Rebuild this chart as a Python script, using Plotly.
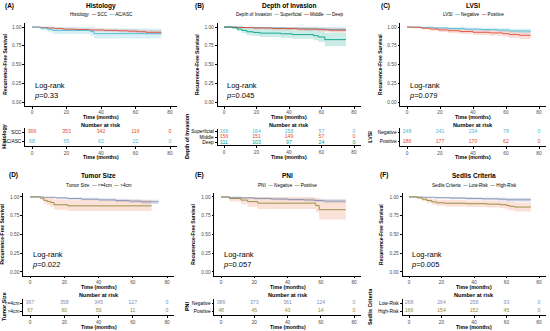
import plotly.graph_objects as go

W, H = 550, 331
FONT = "Liberation Sans"

RISK_TIMES = [0, 20, 40, 60, 80]
X_TICKS = [0, 20, 40, 60, 80]
Y_TICKS = [0, 0.25, 0.5, 0.75, 1.0]
Y_TICKTEXT = ["0.00", "0.25", "0.50", "0.75", "1.00"]

# ---------------- (A) Histology ----------------
A_SCC_t = [0, 5, 9, 13, 18, 25, 33, 42, 50, 56, 61, 66, 75]
A_SCC_s = [1.000, 0.995, 0.988, 0.980, 0.972, 0.967, 0.961, 0.956, 0.950, 0.945, 0.938, 0.930, 0.930]
A_SCC_lo = [1.000, 0.988, 0.977, 0.966, 0.955, 0.949, 0.941, 0.935, 0.927, 0.920, 0.911, 0.900, 0.900]
A_SCC_hi = [1.000, 1.000, 0.999, 0.994, 0.989, 0.985, 0.981, 0.977, 0.973, 0.970, 0.965, 0.960, 0.960]
A_AC_t = [0, 5, 9, 12, 34, 36, 75]
A_AC_s = [1.000, 0.985, 0.970, 0.955, 0.940, 0.912, 0.912]
A_AC_lo = [1.000, 0.956, 0.930, 0.906, 0.884, 0.847, 0.847]
A_AC_hi = [1.000, 1.000, 1.000, 1.000, 0.999, 0.982, 0.982]
A_risk_SCC = [366, 353, 342, 116, 0]
A_risk_AC = [68, 65, 62, 22, 0]

# ---------------- (B) Depth of Invasion ----------------
B_SUP_t = [0, 12, 25, 38, 50, 62, 75]
B_SUP_s = [1.000, 0.994, 0.988, 0.982, 0.976, 0.968, 0.968]
B_SUP_lo = [1.000, 0.982, 0.971, 0.961, 0.952, 0.940, 0.940]
B_SUP_hi = [1.000, 1.000, 1.000, 1.000, 1.000, 0.996, 0.996]
B_MID_t = [0, 8, 18, 30, 45, 58, 65, 75]
B_MID_s = [1.000, 0.994, 0.987, 0.980, 0.973, 0.965, 0.958, 0.958]
B_MID_lo = [1.000, 0.981, 0.969, 0.958, 0.948, 0.937, 0.927, 0.927]
B_MID_hi = [1.000, 1.000, 1.000, 1.000, 0.999, 0.994, 0.990, 0.990]
B_DEEP_t = [0, 5, 8, 11, 14, 18, 22, 35, 42, 55, 58, 62, 75]
B_DEEP_s = [1.000, 0.991, 0.973, 0.955, 0.937, 0.928, 0.919, 0.910, 0.900, 0.885, 0.868, 0.832, 0.832]
B_DEEP_lo = [1.000, 0.973, 0.943, 0.917, 0.892, 0.880, 0.868, 0.857, 0.845, 0.823, 0.800, 0.745, 0.745]
B_DEEP_hi = [1.000, 1.000, 1.000, 0.995, 0.984, 0.978, 0.972, 0.966, 0.958, 0.950, 0.940, 0.925, 0.925]
B_risk_SUP = [166, 164, 158, 57, 0]
B_risk_MID = [156, 151, 149, 57, 0]
B_risk_DEEP = [111, 103, 97, 24, 0]

# ---------------- (C) LVSI ----------------
C_NEG_t = [0, 8, 16, 25, 35, 45, 55, 62, 75]
C_NEG_s = [1.000, 0.996, 0.988, 0.980, 0.972, 0.966, 0.960, 0.948, 0.948]
C_NEG_lo = [1.000, 0.988, 0.974, 0.962, 0.951, 0.943, 0.935, 0.919, 0.919]
C_NEG_hi = [1.000, 1.000, 1.000, 0.998, 0.993, 0.989, 0.985, 0.977, 0.977]
C_POS_t = [0, 4, 9, 14, 19, 25, 32, 40, 50, 58, 62, 68, 75]
C_POS_s = [1.000, 0.995, 0.984, 0.973, 0.962, 0.951, 0.940, 0.930, 0.922, 0.912, 0.900, 0.890, 0.890]
C_POS_lo = [1.000, 0.985, 0.966, 0.950, 0.935, 0.920, 0.906, 0.893, 0.883, 0.870, 0.853, 0.840, 0.840]
C_POS_hi = [1.000, 1.000, 1.000, 0.997, 0.990, 0.983, 0.975, 0.968, 0.962, 0.955, 0.948, 0.941, 0.941]
C_risk_NEG = [248, 241, 234, 78, 0]
C_risk_POS = [186, 177, 170, 62, 0]

# ---------------- (D) Tumor Size ----------------
D_SMALL_t = [0, 8, 15, 22, 30, 40, 50, 58, 65, 75]
D_SMALL_s = [1.000, 0.995, 0.987, 0.979, 0.970, 0.961, 0.953, 0.945, 0.935, 0.935]
D_SMALL_lo = [1.000, 0.988, 0.975, 0.964, 0.952, 0.941, 0.930, 0.920, 0.906, 0.906]
D_SMALL_hi = [1.000, 1.000, 0.999, 0.994, 0.988, 0.982, 0.976, 0.970, 0.964, 0.964]
D_LARGE_t = [0, 6, 8, 10, 12, 14, 22, 71]
D_LARGE_s = [1.000, 0.985, 0.955, 0.940, 0.925, 0.896, 0.881, 0.881]
D_LARGE_lo = [1.000, 0.956, 0.908, 0.886, 0.866, 0.830, 0.812, 0.812]
D_LARGE_hi = [1.000, 1.000, 1.000, 0.998, 0.989, 0.967, 0.955, 0.955]
D_risk_SMALL = [367, 358, 345, 127, 0]
D_risk_LARGE = [67, 60, 59, 11, 0]

# ---------------- (E) PNI ----------------
E_NEG_t = [0, 5, 12, 20, 30, 40, 50, 56, 62, 75]
E_NEG_s = [1.000, 0.995, 0.988, 0.980, 0.972, 0.965, 0.960, 0.953, 0.945, 0.945]
E_NEG_lo = [1.000, 0.988, 0.977, 0.966, 0.955, 0.946, 0.939, 0.930, 0.920, 0.920]
E_NEG_hi = [1.000, 1.000, 0.999, 0.994, 0.989, 0.984, 0.981, 0.976, 0.971, 0.971]
E_POS_t = [0, 5, 12, 16, 22, 55, 57, 59, 75]
E_POS_s = [1.000, 0.979, 0.958, 0.938, 0.917, 0.917, 0.885, 0.830, 0.830]
E_POS_lo = [1.000, 0.939, 0.903, 0.870, 0.840, 0.840, 0.795, 0.700, 0.700]
E_POS_hi = [1.000, 1.000, 1.000, 1.000, 0.999, 0.999, 0.985, 0.950, 0.950]
E_risk_NEG = [386, 373, 361, 124, 0]
E_risk_POS = [48, 45, 43, 14, 0]

# ---------------- (F) Sedlis Criteria ----------------
F_LOW_t = [0, 8, 16, 25, 35, 45, 55, 60, 75]
F_LOW_s = [1.000, 0.996, 0.990, 0.985, 0.980, 0.975, 0.970, 0.962, 0.962]
F_LOW_lo = [1.000, 0.988, 0.978, 0.970, 0.963, 0.955, 0.948, 0.936, 0.936]
F_LOW_hi = [1.000, 1.000, 1.000, 1.000, 0.997, 0.994, 0.992, 0.988, 0.988]
F_HIGH_t = [0, 5, 8, 11, 14, 17, 22, 35, 48, 56, 60, 62, 65, 75]
F_HIGH_s = [1.000, 0.988, 0.970, 0.952, 0.934, 0.922, 0.916, 0.910, 0.904, 0.896, 0.886, 0.874, 0.865, 0.865]
F_HIGH_lo = [1.000, 0.971, 0.944, 0.919, 0.896, 0.881, 0.874, 0.866, 0.859, 0.848, 0.834, 0.818, 0.805, 0.805]
F_HIGH_hi = [1.000, 1.000, 0.996, 0.985, 0.972, 0.963, 0.958, 0.954, 0.949, 0.944, 0.938, 0.930, 0.925, 0.925]
F_risk_LOW = [268, 264, 258, 93, 0]
F_risk_HIGH = [166, 154, 152, 45, 0]

# ---------------- styles ----------------
RED, CYAN, GREEN = "#E64B35", "#4DBBD5", "#00A087"
LAV, OLIVE = "#8491B4", "#8F8A3B"
FILLS = {RED: "rgba(230,75,53,0.18)", CYAN: "rgba(77,187,213,0.22)",
         GREEN: "rgba(0,160,135,0.2)", LAV: "rgba(132,145,180,0.25)",
         OLIVE: "rgba(243,155,127,0.3)"}

def grp(name, t, s, lo, hi, risk, color):
    return dict(name=name, t=t, s=s, lo=lo, hi=hi, risk=risk, color=color)

panels = [
    dict(tag="(A)", title="Histology", var="Histology", p="0.33",
         groups=[grp("SCC", A_SCC_t, A_SCC_s, A_SCC_lo, A_SCC_hi, A_risk_SCC, RED),
                 grp("AC/ASC", A_AC_t, A_AC_s, A_AC_lo, A_AC_hi, A_risk_AC, CYAN)]),
    dict(tag="(B)", title="Depth of Invasion", var="Depth of Invasion", p="0.045",
         groups=[grp("Superficial", B_SUP_t, B_SUP_s, B_SUP_lo, B_SUP_hi, B_risk_SUP, CYAN),
                 grp("Middle", B_MID_t, B_MID_s, B_MID_lo, B_MID_hi, B_risk_MID, RED),
                 grp("Deep", B_DEEP_t, B_DEEP_s, B_DEEP_lo, B_DEEP_hi, B_risk_DEEP, GREEN)]),
    dict(tag="(C)", title="LVSI", var="LVSI", p="0.079",
         groups=[grp("Negative", C_NEG_t, C_NEG_s, C_NEG_lo, C_NEG_hi, C_risk_NEG, CYAN),
                 grp("Positive", C_POS_t, C_POS_s, C_POS_lo, C_POS_hi, C_risk_POS, RED)]),
    dict(tag="(D)", title="Tumor Size", var="Tumor Size", p="0.022",
         groups=[grp("<=4cm", D_SMALL_t, D_SMALL_s, D_SMALL_lo, D_SMALL_hi, D_risk_SMALL, LAV),
                 grp(">4cm", D_LARGE_t, D_LARGE_s, D_LARGE_lo, D_LARGE_hi, D_risk_LARGE, OLIVE)]),
    dict(tag="(E)", title="PNI", var="PNI", p="0.057",
         groups=[grp("Negative", E_NEG_t, E_NEG_s, E_NEG_lo, E_NEG_hi, E_risk_NEG, LAV),
                 grp("Positive", E_POS_t, E_POS_s, E_POS_lo, E_POS_hi, E_risk_POS, OLIVE)]),
    dict(tag="(F)", title="Sedlis Criteria", var="Sedlis Criteria", p="0.005",
         groups=[grp("Low-Risk", F_LOW_t, F_LOW_s, F_LOW_lo, F_LOW_hi, F_risk_LOW, LAV),
                 grp("High-Risk", F_HIGH_t, F_HIGH_s, F_HIGH_lo, F_HIGH_hi, F_risk_HIGH, OLIVE)]),
]

# geometry in pixels: (col_left, tag_offset, x0, x1)
cols = [(0, 3, 25.1, 176.9), (183, 10, 217.5, 360.5), (366, 13, 400.4, 545.6),
        (0, 7, 23.2, 173.9), (183, 10, 214.4, 360.7), (366, 12, 402.5, 545.5)]
rows = [dict(title=5.5, legend=15, km=(23.3, 105.8), time1=116.5, nar=124.5, tab=(127.5, 146), time2=156.8),
        dict(title=175, legend=185, km=(193.2, 275.6), time1=287.4, nar=295.2, tab=(299, 315), time2=326.5)]

def ax(n, kind):
    return kind if n == 1 else f"{kind}{n}"

fig = go.Figure()
layout = dict(template="none", width=W, height=H, margin=dict(l=0, r=0, t=0, b=0),
              paper_bgcolor="white", plot_bgcolor="white", showlegend=False,
              font=dict(family=FONT, color="black"))
ann = []

def PX(v):
    return v / W

def PY(v):
    return 1 - v / H

AXC = dict(showgrid=False, zeroline=False, showline=True, linecolor="black", linewidth=0.6,
           ticks="outside", ticklen=2, tickwidth=0.6, tickcolor="black",
           tickfont=dict(size=4.8, color="#4D4D4D", family=FONT), fixedrange=True)

for i, pnl in enumerate(panels):
    col_left, tagoff, x0, x1 = cols[i]
    r = rows[i // 3]
    nk, nt = 2 * i + 1, 2 * i + 2
    ng = len(pnl["groups"])
    tab = r["tab"] if ng == 2 else (r["tab"][0] + 1.5, r["tab"][1] - 1)
    layout[f"xaxis{'' if nk == 1 else nk}"] = dict(AXC, domain=[PX(x0), PX(x1)], range=[-4, 84],
                                                   tickvals=X_TICKS, anchor=ax(nk, "y"))
    layout[f"yaxis{'' if nk == 1 else nk}"] = dict(AXC, domain=[PY(r["km"][1]), PY(r["km"][0])],
                                                   range=[-0.05, 1.05], tickvals=Y_TICKS,
                                                   ticktext=Y_TICKTEXT, anchor=ax(nk, "x"))
    layout[f"xaxis{nt}"] = dict(AXC, domain=[PX(x0), PX(x1)], range=[-4, 84],
                                tickvals=X_TICKS, anchor=ax(nt, "y"))
    layout[f"yaxis{nt}"] = dict(AXC, domain=[PY(tab[1]), PY(tab[0])], range=[0.5, ng + 0.5],
                                tickvals=list(range(ng, 0, -1)),
                                ticktext=[g["name"] for g in pnl["groups"]],
                                tickfont=dict(size=4.8, color="black", family=FONT),
                                anchor=ax(nt, "x"))
    for g in pnl["groups"]:
        fig.add_trace(go.Scatter(x=g["t"], y=g["lo"], mode="lines", line=dict(width=0, shape="hv"),
                                 xaxis=ax(nk, "x"), yaxis=ax(nk, "y"), hoverinfo="skip"))
        fig.add_trace(go.Scatter(x=g["t"], y=g["hi"], mode="lines", line=dict(width=0, shape="hv"),
                                 fill="tonexty", fillcolor=FILLS[g["color"]],
                                 xaxis=ax(nk, "x"), yaxis=ax(nk, "y"), hoverinfo="skip"))
    for g in pnl["groups"]:
        fig.add_trace(go.Scatter(x=g["t"], y=g["s"], mode="lines", name=g["name"],
                                 line=dict(color=g["color"], width=0.9, shape="hv"),
                                 xaxis=ax(nk, "x"), yaxis=ax(nk, "y")))
    for k, g in enumerate(pnl["groups"]):
        fig.add_trace(go.Scatter(x=RISK_TIMES, y=[ng - k] * len(RISK_TIMES), mode="text",
                                 text=[str(v) for v in g["risk"]],
                                 textfont=dict(size=5.2, color=g["color"], family=FONT),
                                 xaxis=ax(nt, "x"), yaxis=ax(nt, "y"), hoverinfo="skip"))
    cx = (x0 + x1) / 2
    ann.append(dict(text=f"<b>{pnl['tag']}</b>", x=PX(col_left + tagoff), y=PY(r["title"]),
                    xanchor="left", font=dict(size=6.5)))
    ann.append(dict(text=f"<b>{pnl['title']}</b>", x=PX(cx), y=PY(r["title"]),
                    font=dict(size=6.5)))
    leg = pnl["var"] + "".join(
        f"  <span style='color:{g['color']}'><b>—</b></span> {g['name']}" for g in pnl["groups"])
    ann.append(dict(text=leg, x=PX(cx), y=PY(r["legend"]), font=dict(size=4.6)))
    ann.append(dict(text="<b>Recurrence-Free Survival</b>", x=PX(x0 - 21),
                    y=PY((r["km"][0] + r["km"][1]) / 2), textangle=-90, font=dict(size=5)))
    ann.append(dict(text="<b>Time (months)</b>", x=PX(cx), y=PY(r["time1"]), font=dict(size=5.2)))
    ann.append(dict(text="<b>Number at risk</b>", x=PX(cx), y=PY(r["nar"]), font=dict(size=5.6)))
    ann.append(dict(text=f"<b>{pnl['var']}</b>", x=PX(col_left + 4), y=PY((tab[0] + tab[1]) / 2),
                    textangle=-90, font=dict(size=5.4)))
    ann.append(dict(text="<b>Time (months)</b>", x=PX(cx), y=PY(r["time2"]), font=dict(size=5.2)))
    ann.append(dict(text=f"Log-rank<br><i>p</i>={pnl['p']}", x=0, y=0.16,
                    xref=ax(nk, "x"), yref=ax(nk, "y"), xanchor="left", align="left",
                    font=dict(size=7.5)))

for a in ann:
    a.setdefault("xref", "paper")
    a.setdefault("yref", "paper")
    a.setdefault("xanchor", "center")
    a.setdefault("yanchor", "middle")
    a["showarrow"] = False
    a["font"] = dict(family=FONT, color="black", **a["font"])

layout["annotations"] = ann
fig.update_layout(**layout)
fig.write_html("out.html", config={"displayModeBar": False},
               post_script="document.body.style.margin='0';document.body.style.overflow='hidden';")
